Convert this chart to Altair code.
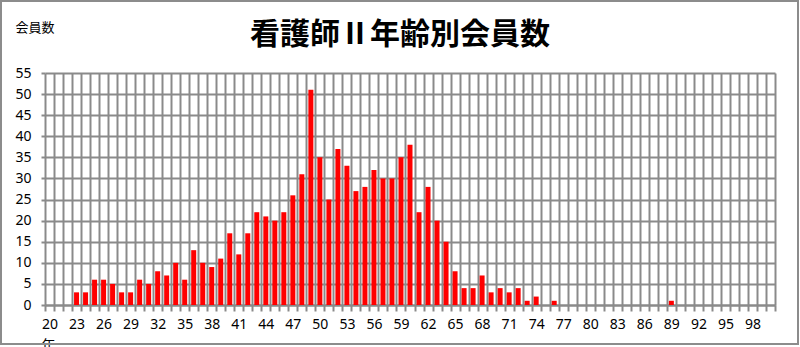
import altair as alt
import pandas as pd

ages = list(range(20, 101))
counts = (
    [0, 0, 0, 3, 3, 6, 6, 5, 3, 3]
    + [6, 5, 8, 7, 10, 6, 13, 10, 9, 11]
    + [17, 12, 17, 22, 21, 20, 22, 26, 31, 51]
    + [35, 25, 37, 33, 27, 28, 32, 30, 30, 35]
    + [38, 22, 28, 20, 15, 8, 4, 4, 7, 3]
    + [4, 3, 4, 1, 2, 0, 1, 0, 0, 0]
    + [0, 0, 0, 0, 0, 0, 0, 0, 0, 1]
    + [0] * 11
)
y_ticks = list(range(0, 56, 5))

df = pd.DataFrame({"age": ages, "count": counts})

GRID = "#8a8a8a"
FONT = "Noto Sans"
CJK = "Noto Sans CJK JP"

bars = alt.Chart(df).mark_bar(color="#ff0000", size=5).encode(
    x=alt.X(
        "age:O",
        sort=ages,
        scale=alt.Scale(paddingInner=0, paddingOuter=0),
        axis=alt.Axis(
            title="年",
            titleFont=CJK,
            titleFontSize=14,
            titleFontWeight="normal",
            titleColor="#000",
            titleAnchor="start",
            titleAlign="left",
            titleBaseline="top",
            titleX=-4,
            titleY=33,
            labelAngle=0,
            labelExpr="(datum.value - 20) % 3 == 0 ? datum.label : ''",
            labelOverlap=False,
            labelFont=FONT,
            labelFontSize=14,
            labelColor="#000",
            labelPadding=6,
            tickBand="extent",
            tickSize=6,
            tickColor=GRID,
            tickWidth=2,
            grid=True,
            gridColor=GRID,
            gridWidth=2,
            gridOpacity=1,
            domainColor=GRID,
            domainWidth=2,
        ),
    ),
    y=alt.Y(
        "count:Q",
        scale=alt.Scale(domain=[0, 55], nice=False),
        axis=alt.Axis(
            values=y_ticks,
            title="会員数",
            titleFont=CJK,
            titleFontSize=13,
            titleFontWeight="normal",
            titleColor="#000",
            titleAngle=0,
            titleAlign="left",
            titleBaseline="middle",
            titleX=-30,
            titleY=-46,
            labelFont=FONT,
            labelFontSize=14,
            labelColor="#000",
            labelPadding=10,
            tickSize=4,
            tickColor=GRID,
            tickWidth=2,
            grid=True,
            gridColor=GRID,
            gridWidth=2,
            gridOpacity=1,
            domain=False,
        ),
    ),
)

frame = alt.Chart(df).mark_rect(
    fill=None, stroke="#8c8c8c", strokeWidth=1.5
).encode(
    x=alt.value(-44), x2=alt.value(753), y=alt.value(-72), y2=alt.value(271)
)

chart = (
    alt.layer(frame, bars)
    .properties(
        width=730,
        height=232,
        autosize=alt.AutoSizeParams(type="none"),
        padding={"left": 45, "top": 73, "right": 25, "bottom": 42},
        title=alt.TitleParams(
            "看護師Ⅱ年齢別会員数",
            font=CJK,
            fontSize=30,
            fontWeight="bold",
            color="#000",
            anchor="middle",
            frame="group",
            offset=0,
            dy=50,
            dx=-10,
        ),
        background="white",
    )
    .configure_view(stroke=None)
)

chart.save("out.html", embed_options={"renderer": "svg", "actions": False})
